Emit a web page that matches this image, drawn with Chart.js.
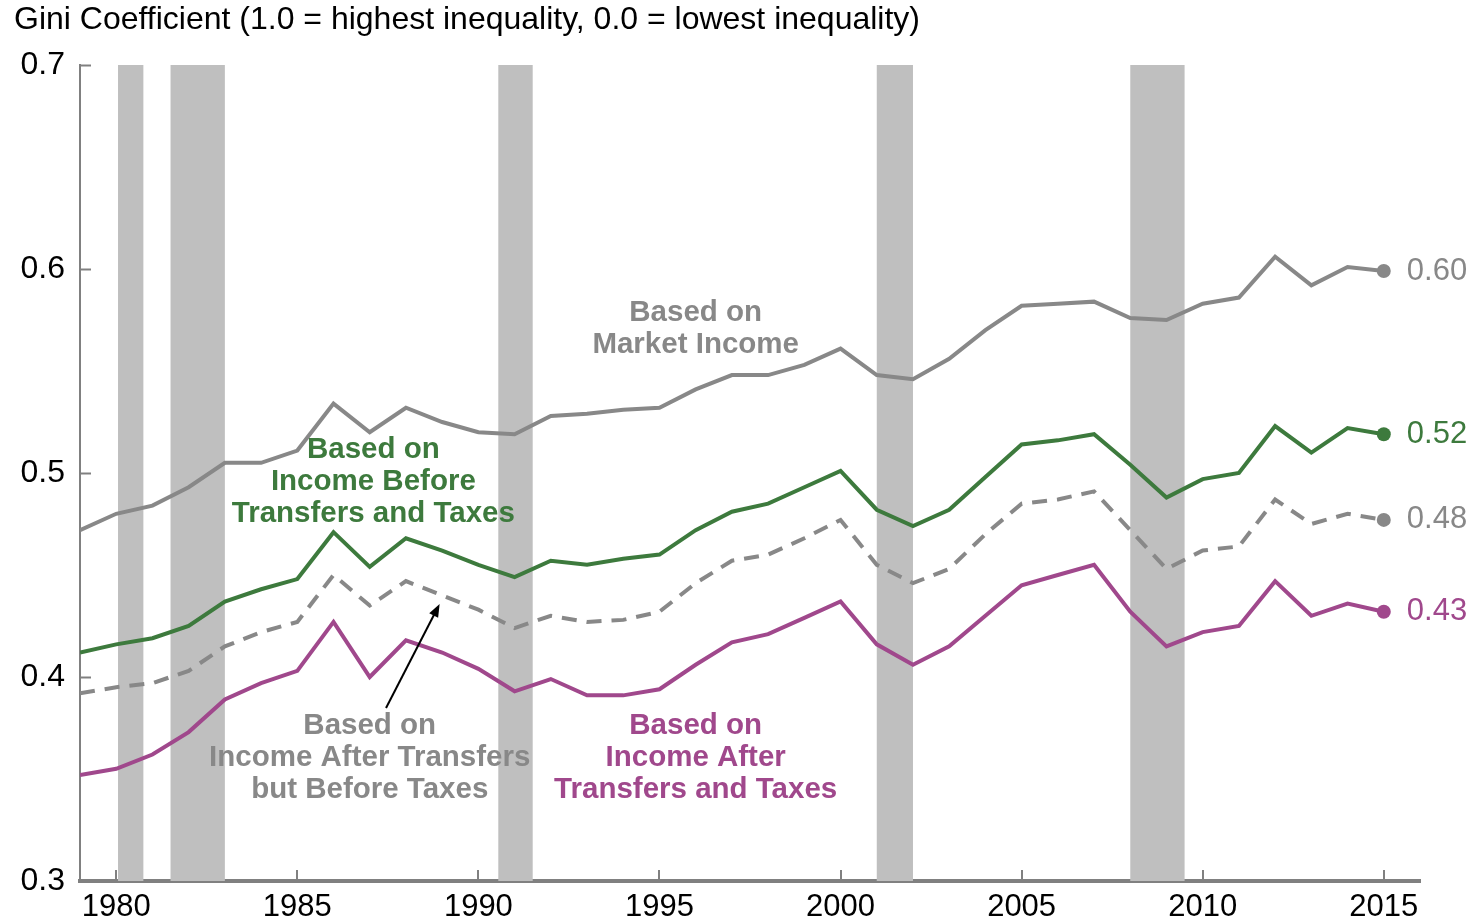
<!DOCTYPE html>
<html>
<head>
<meta charset="utf-8">
<script src="https://cdn.jsdelivr.net/npm/chart.js@4.4.1/dist/chart.umd.min.js"></script>
<style>
  html, body { margin: 0; padding: 0; background: #fff; }
</style>
</head>
<body>
<canvas id="giniChart" width="1480" height="923"></canvas>
<script>
// Years on the x axis
const years = [1979, 1980, 1981, 1982, 1983, 1984, 1985, 1986, 1987, 1988, 1989,
  1990, 1991, 1992, 1993, 1994, 1995, 1996, 1997, 1998, 1999,
  2000, 2001, 2002, 2003, 2004, 2005, 2006, 2007, 2008, 2009,
  2010, 2011, 2012, 2013, 2014, 2015];

// Gini coefficient, one array per income measure
const marketIncome = [0.472, 0.480, 0.484, 0.493, 0.505, 0.505, 0.511, 0.534, 0.520, 0.532, 0.525,
  0.520, 0.519, 0.528, 0.529, 0.531, 0.532, 0.541, 0.548, 0.548, 0.553,
  0.561, 0.548, 0.546, 0.556, 0.570, 0.582, 0.583, 0.584, 0.576, 0.575,
  0.583, 0.586, 0.606, 0.592, 0.601, 0.599];
const beforeTransfersTaxes = [0.412, 0.416, 0.419, 0.425, 0.437, 0.443, 0.448, 0.471, 0.454, 0.468, 0.462,
  0.455, 0.449, 0.457, 0.455, 0.458, 0.460, 0.472, 0.481, 0.485, 0.493,
  0.501, 0.482, 0.474, 0.482, 0.498, 0.514, 0.516, 0.519, 0.504, 0.488,
  0.497, 0.500, 0.523, 0.510, 0.522, 0.519];
const afterTransfersBeforeTaxes = [0.392, 0.395, 0.397, 0.403, 0.415, 0.422, 0.427, 0.450, 0.435, 0.447, 0.440,
  0.433, 0.424, 0.430, 0.427, 0.428, 0.432, 0.446, 0.457, 0.460, 0.468,
  0.477, 0.455, 0.446, 0.453, 0.470, 0.485, 0.487, 0.491, 0.472, 0.453,
  0.462, 0.464, 0.487, 0.475, 0.480, 0.477];
const afterTransfersTaxes = [0.352, 0.355, 0.362, 0.373, 0.389, 0.397, 0.403, 0.427, 0.400, 0.418, 0.412,
  0.404, 0.393, 0.399, 0.391, 0.391, 0.394, 0.406, 0.417, 0.421, 0.429,
  0.437, 0.416, 0.406, 0.415, 0.430, 0.445, 0.450, 0.455, 0.432, 0.415,
  0.422, 0.425, 0.447, 0.430, 0.436, 0.432];

// Recessions (start, end) in fractional years
const recessions = [[1980.05, 1980.75], [1981.5, 1983.0], [1990.55, 1991.5], [2001.0, 2002.0], [2008.0, 2009.5]];

// Tick labels
const xTicks = [1980, 1985, 1990, 1995, 2000, 2005, 2010, 2015];
const yTicks = [0.3, 0.4, 0.5, 0.6, 0.7];

const FONT = "'Liberation Sans', Arial, sans-serif";
const GRAY = '#888888';
const GREEN = '#3d7a3d';
const PURPLE = '#a0488c';
const AXIS = '#808080';

// labels drawn inside the plot, anchored at (year, value)
const notes = [
  { lines: ['Based on', 'Market Income'], color: GRAY, x: 1996.0, y: 0.5786 },
  { lines: ['Based on', 'Income Before', 'Transfers and Taxes'], color: GREEN, x: 1987.1, y: 0.5114 },
  { lines: ['Based on', 'Income After Transfers', 'but Before Taxes'], color: GRAY, x: 1987.0, y: 0.3761 },
  { lines: ['Based on', 'Income After', 'Transfers and Taxes'], color: PURPLE, x: 1996.0, y: 0.3761 }
];

function pts(vals) {
  return years.map((yr, i) => ({ x: yr, y: vals[i] }));
}
function endDot(ctx) {
  return ctx.dataIndex === years.length - 1 ? 7 : 0;
}

// grey recession bands behind the lines
const recessionBands = {
  id: 'recessionBands',
  beforeDatasetsDraw(chart) {
    const { ctx, chartArea, scales } = chart;
    ctx.save();
    ctx.fillStyle = '#bfbfbf';
    recessions.forEach(([a, b]) => {
      const x1 = scales.x.getPixelForValue(a);
      const x2 = scales.x.getPixelForValue(b);
      ctx.fillRect(x1, chartArea.top, x2 - x1, chartArea.bottom - chartArea.top);
    });
    ctx.restore();
  }
};

// ticks that point into the plot, end labels, notes and arrow
const extras = {
  id: 'extras',
  afterDraw(chart) {
    const { ctx, chartArea, scales } = chart;
    ctx.save();
    ctx.strokeStyle = AXIS;
    ctx.lineWidth = 2;
    yTicks.forEach(v => {
      const y = Math.round(scales.y.getPixelForValue(v)) + 0.5;
      ctx.beginPath();
      ctx.moveTo(chartArea.left, y);
      ctx.lineTo(chartArea.left + 11, y);
      ctx.stroke();
    });
    xTicks.forEach(v => {
      const x = Math.round(scales.x.getPixelForValue(v));
      ctx.beginPath();
      ctx.moveTo(x, chartArea.bottom);
      ctx.lineTo(x, chartArea.bottom - 11);
      ctx.stroke();
    });

    // value at the last point of each line
    ctx.font = '31px ' + FONT;
    ctx.textAlign = 'left';
    ctx.textBaseline = 'middle';
    chart.data.datasets.forEach((ds, i) => {
      const pt = chart.getDatasetMeta(i).data[years.length - 1];
      ctx.fillStyle = ds.pointBackgroundColor;
      ctx.fillText(ds.data[years.length - 1].y.toFixed(2), pt.x + 23, pt.y);
    });

    // series labels
    ctx.font = 'bold 29.5px ' + FONT;
    ctx.textAlign = 'center';
    notes.forEach(n => {
      const x = scales.x.getPixelForValue(n.x);
      const y = scales.y.getPixelForValue(n.y);
      ctx.fillStyle = n.color;
      n.lines.forEach((t, k) => ctx.fillText(t, x, y + k * 32));
    });

    // arrow to the dashed line
    const ax1 = scales.x.getPixelForValue(1987.45), ay1 = scales.y.getPixelForValue(0.3848);
    const ax2 = scales.x.getPixelForValue(1988.93), ay2 = scales.y.getPixelForValue(0.4358);
    const ang = Math.atan2(ay2 - ay1, ax2 - ax1);
    ctx.strokeStyle = '#000';
    ctx.fillStyle = '#000';
    ctx.lineWidth = 2;
    ctx.beginPath();
    ctx.moveTo(ax1, ay1);
    ctx.lineTo(ax2 - 8 * Math.cos(ang), ay2 - 8 * Math.sin(ang));
    ctx.stroke();
    ctx.beginPath();
    ctx.moveTo(ax2, ay2);
    ctx.lineTo(ax2 - 13 * Math.cos(ang) + 5 * Math.sin(ang), ay2 - 13 * Math.sin(ang) - 5 * Math.cos(ang));
    ctx.lineTo(ax2 - 13 * Math.cos(ang) - 5 * Math.sin(ang), ay2 - 13 * Math.sin(ang) + 5 * Math.cos(ang));
    ctx.closePath();
    ctx.fill();
    ctx.restore();
  }
};

const giniChart = new Chart(document.getElementById('giniChart'), {
  type: 'line',
  data: {
    datasets: [
      { label: 'Market Income', data: pts(marketIncome), borderColor: GRAY, pointBackgroundColor: GRAY },
      { label: 'Before Transfers and Taxes', data: pts(beforeTransfersTaxes), borderColor: GREEN, pointBackgroundColor: GREEN },
      { label: 'After Transfers, Before Taxes', data: pts(afterTransfersBeforeTaxes), borderColor: GRAY, pointBackgroundColor: GRAY, borderDash: [15, 10] },
      { label: 'After Transfers and Taxes', data: pts(afterTransfersTaxes), borderColor: PURPLE, pointBackgroundColor: PURPLE }
    ].map(ds => Object.assign(ds, {
      borderWidth: 4,
      tension: 0,
      pointRadius: endDot,
      pointBorderWidth: 0,
      pointHoverRadius: 0
    }))
  },
  options: {
    responsive: false,
    animation: false,
    events: [],
    layout: { padding: { left: 14, right: 60, top: 0, bottom: 0 } },
    plugins: {
      legend: { display: false },
      tooltip: { enabled: false },
      title: {
        display: true,
        align: 'start',
        text: 'Gini Coefficient (1.0 = highest inequality, 0.0 = lowest inequality)',
        color: '#000',
        font: { family: FONT, size: 32, weight: 'normal' },
        padding: { top: 1, bottom: 25.6 }
      }
    },
    scales: {
      x: {
        type: 'linear',
        min: 1979,
        max: 2016,
        z: 1,
        grid: { display: false, drawTicks: false },
        border: { display: true, color: AXIS, width: 4 },
        afterBuildTicks: s => { s.ticks = xTicks.map(v => ({ value: v })); },
        afterFit: s => { s.height = 42; },
        ticks: {
          autoSkip: false,
          maxRotation: 0,
          padding: 8,
          color: '#000',
          font: { family: FONT, size: 31 },
          callback: v => String(v)
        }
      },
      y: {
        min: 0.3,
        max: 0.7,
        z: 1,
        grid: { display: false, drawTicks: false },
        border: { display: true, color: AXIS, width: 2 },
        afterBuildTicks: s => { s.ticks = yTicks.map(v => ({ value: v })); },
        afterFit: s => { s.width = 66; },
        ticks: {
          padding: 15,
          color: '#000',
          font: { family: FONT, size: 32 },
          callback: v => v.toFixed(1)
        }
      }
    }
  },
  plugins: [recessionBands, extras]
});
</script>
</body>
</html>
